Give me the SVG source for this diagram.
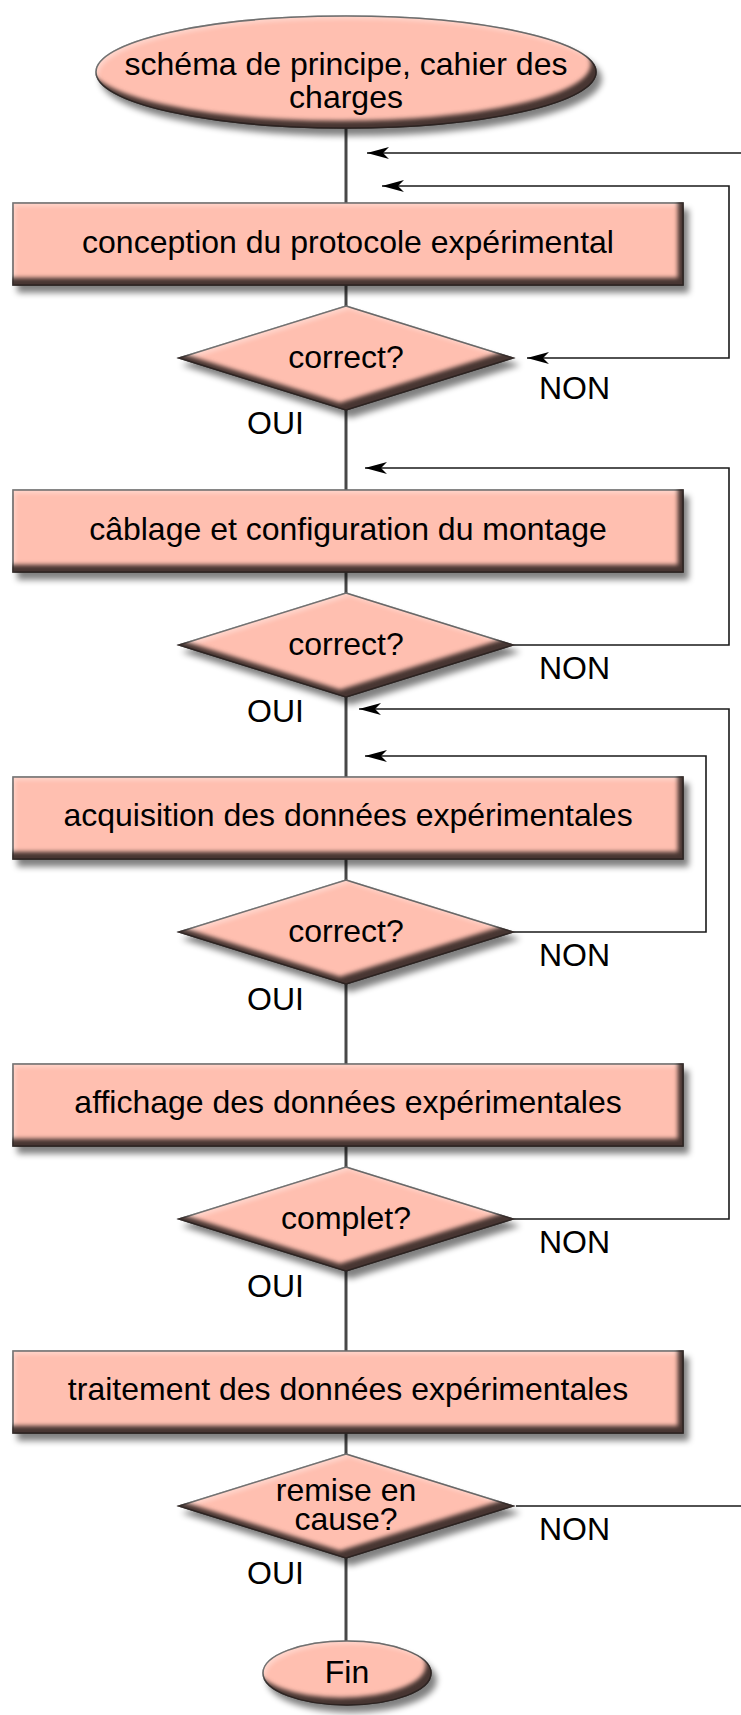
<svg xmlns="http://www.w3.org/2000/svg" width="741" height="1715" viewBox="0 0 741 1715">
<defs>
<style>
.shape{fill:#FFBFB0;stroke:#2a2a2a;stroke-width:1.5;filter:url(#bev)}
.t{font-family:"Liberation Sans",Arial,Helvetica,sans-serif;font-size:32px;fill:#000}
.c{text-anchor:middle}
.main{stroke:#484848;stroke-width:3;fill:none}
.loop{stroke:#1a1a1a;stroke-width:1.6;fill:none}
.arr{marker-end:url(#ah)}
.arr2{marker-start:url(#ah);marker-end:url(#ah)}
</style>
<marker id="ah" viewBox="0 0 22 12" refX="22" refY="6" markerWidth="22" markerHeight="12" markerUnits="userSpaceOnUse" orient="auto-start-reverse">
<path d="M0,0 L22,6 L0,12 L6,6 Z" fill="#000"/>
</marker>
<filter id="bev" x="-8%" y="-20%" width="120%" height="160%" color-interpolation-filters="sRGB">
<feGaussianBlur in="SourceAlpha" stdDeviation="3" result="b0"/>
<feOffset in="b0" dx="5" dy="7" result="ds"/>
<feComponentTransfer in="ds" result="ds2"><feFuncA type="linear" slope="0.5"/></feComponentTransfer>
<feOffset in="SourceAlpha" dx="-6" dy="-8" result="s1"/>
<feGaussianBlur in="s1" stdDeviation="2" result="s2"/>
<feComposite in="SourceAlpha" in2="s2" operator="out" result="rim"/>
<feFlood flood-color="#2e2220" flood-opacity="0.88"/>
<feComposite in2="rim" operator="in" result="rimc"/>
<feOffset in="SourceAlpha" dx="3" dy="4" result="h1"/>
<feGaussianBlur in="h1" stdDeviation="2" result="h2"/>
<feComposite in="SourceAlpha" in2="h2" operator="out" result="hl"/>
<feFlood flood-color="#ffffff" flood-opacity="0.35"/>
<feComposite in2="hl" operator="in" result="hlc"/>
<feMerge><feMergeNode in="ds2"/><feMergeNode in="SourceGraphic"/><feMergeNode in="hlc"/><feMergeNode in="rimc"/></feMerge>
</filter>
</defs>
<rect width="741" height="1715" fill="#fff"/>

<g id="connectors">
<path class="main" d="M346,127 V203 M346,285 V306 M346,410 V490 M346,572 V593 M346,697 V777 M346,859 V880 M346,984 V1064 M346,1146 V1167 M346,1271 V1351 M346,1433 V1454 M346,1558 V1641"/>
<path class="loop arr2" d="M527,358 H729 V186 H382"/>
<path class="loop arr" d="M512,645 H729 V468 H365"/>
<path class="loop arr" d="M512,932 H706 V756 H365"/>
<path class="loop arr" d="M512,1219 H729 V709 H359"/>
<path class="loop arr" d="M516,1506 H780 V153 H367"/>
</g>

<g id="start">
<ellipse class="shape" cx="346" cy="72" rx="250" ry="56"/>
<text class="t c" x="346" y="75">schéma de principe, cahier des</text>
<text class="t c" x="346" y="108">charges</text>
</g>

<g id="step1">
<rect class="shape" x="13" y="203" width="670" height="82"/>
<text class="t c" x="348" y="253">conception du protocole expérimental</text>
</g>
<g id="dec1">
<polygon class="shape" points="346,306 513,358 346,410 179,358"/>
<text class="t c" x="346" y="368">correct?</text>
<text class="t" x="539" y="399">NON</text>
<text class="t" x="247" y="434">OUI</text>
</g>

<g id="step2">
<rect class="shape" x="13" y="490" width="670" height="82"/>
<text class="t c" x="348" y="540">câblage et configuration du montage</text>
</g>
<g id="dec2">
<polygon class="shape" points="346,593 513,645 346,697 179,645"/>
<text class="t c" x="346" y="655">correct?</text>
<text class="t" x="539" y="679">NON</text>
<text class="t" x="247" y="722">OUI</text>
</g>

<g id="step3">
<rect class="shape" x="13" y="777" width="670" height="82"/>
<text class="t c" x="348" y="826">acquisition des données expérimentales</text>
</g>
<g id="dec3">
<polygon class="shape" points="346,880 513,932 346,984 179,932"/>
<text class="t c" x="346" y="942">correct?</text>
<text class="t" x="539" y="966">NON</text>
<text class="t" x="247" y="1010">OUI</text>
</g>

<g id="step4">
<rect class="shape" x="13" y="1064" width="670" height="82"/>
<text class="t c" x="348" y="1113">affichage des données expérimentales</text>
</g>
<g id="dec4">
<polygon class="shape" points="346,1167 513,1219 346,1271 179,1219"/>
<text class="t c" x="346" y="1229">complet?</text>
<text class="t" x="539" y="1253">NON</text>
<text class="t" x="247" y="1297">OUI</text>
</g>

<g id="step5">
<rect class="shape" x="13" y="1351" width="670" height="82"/>
<text class="t c" x="348" y="1400">traitement des données expérimentales</text>
</g>
<g id="dec5">
<polygon class="shape" points="346,1454 513,1506 346,1558 179,1506"/>
<text class="t c" x="346" y="1501">remise en</text>
<text class="t c" x="346" y="1530">cause?</text>
<text class="t" x="539" y="1540">NON</text>
<text class="t" x="247" y="1584">OUI</text>
</g>

<g id="end">
<ellipse class="shape" cx="347" cy="1673" rx="84" ry="32"/>
<text class="t c" x="347" y="1683">Fin</text>
</g>
</svg>
